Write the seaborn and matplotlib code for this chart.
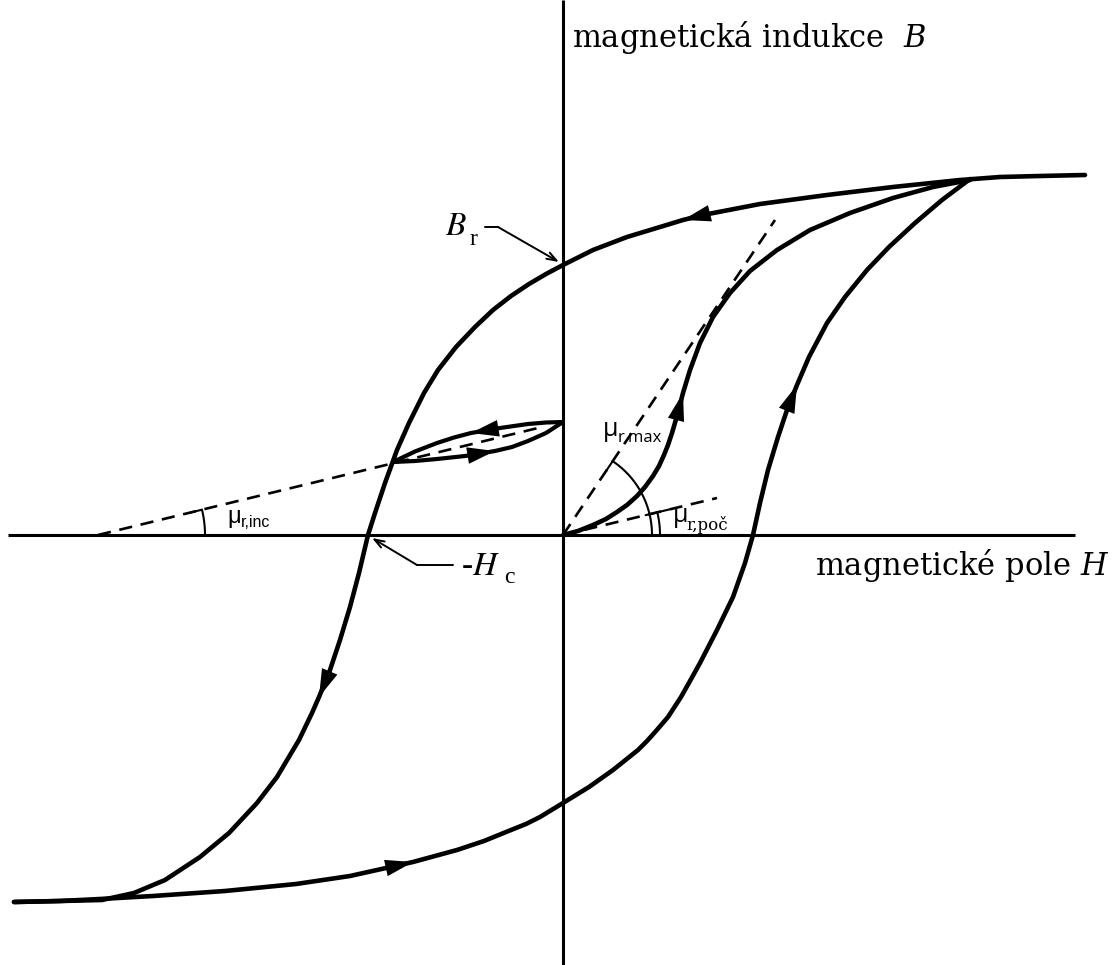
import numpy as np
import seaborn as sns
import matplotlib
matplotlib.use("Agg")
import matplotlib.pyplot as plt

# --- hysteresis curves (H, B) in arbitrary units -------------------------
# descending branch of the main loop (from positive saturation)
desc_H = [5.22, 4.77, 4.37, 3.97, 3.30, 2.64, 1.97, 1.40, 1.20, 0.97, 0.64, 0.30,
          0.00, -0.17, -0.34, -0.52, -0.70, -0.88, -1.07, -1.25, -1.39, -1.54,
          -1.66, -1.78, -1.88, -1.95, -2.04, -2.13, -2.23, -2.34, -2.44, -2.51,
          -2.64, -2.86, -3.06, -3.34, -3.63, -3.98, -4.29, -4.61, -5.03, -5.49]
desc_B = [3.60, 3.59, 3.58, 3.55, 3.48, 3.40, 3.31, 3.20, 3.15, 3.08, 2.98, 2.85,
          2.70, 2.61, 2.51, 2.39, 2.25, 2.08, 1.88, 1.65, 1.42, 1.12,
          0.85, 0.52, 0.22, 0.00, -0.38, -0.72, -1.05, -1.38, -1.62, -1.78,
          -2.05, -2.42, -2.68, -2.98, -3.22, -3.45, -3.58, -3.65, -3.66, -3.67]

# ascending branch of the main loop (from negative saturation)
asc_H = [-5.49, -5.03, -4.63, -4.10, -3.38, -2.67, -2.13, -1.50, -1.06, -0.79,
         -0.52, -0.37, -0.23, 0.00, 0.26, 0.50, 0.75, 0.84, 0.93, 1.05, 1.18, 1.27,
         1.37, 1.54, 1.70, 1.82, 1.90, 1.97, 2.05, 2.15, 2.24, 2.34, 2.46, 2.64,
         2.82, 3.04, 3.26, 3.52, 3.79, 4.07]
asc_B = [-3.67, -3.66, -3.64, -3.61, -3.56, -3.49, -3.41, -3.27, -3.15, -3.06,
         -2.95, -2.89, -2.82, -2.68, -2.52, -2.35, -2.15, -2.06, -1.96, -1.82,
         -1.62, -1.46, -1.28, -0.95, -0.62, -0.28, 0.00, 0.32, 0.65, 0.98, 1.25,
         1.50, 1.78, 2.12, 2.38, 2.65, 2.88, 3.12, 3.35, 3.56]

# initial magnetization curve
init_H = [0.00, 0.15, 0.30, 0.43, 0.54, 0.64, 0.74, 0.82, 0.90, 0.96, 1.01, 1.05,
          1.09, 1.14, 1.20, 1.27, 1.37, 1.50, 1.67, 1.87, 2.14, 2.47, 2.87, 3.30,
          3.70, 4.07]
init_B = [0.00, 0.04, 0.10, 0.16, 0.23, 0.30, 0.39, 0.48, 0.59, 0.69, 0.80, 0.90,
          1.02, 1.19, 1.42, 1.65, 1.92, 2.18, 2.42, 2.64, 2.85, 3.05, 3.22, 3.37,
          3.48, 3.55]

# minor (incremental) loop
minor_up_H = [0.00, -0.17, -0.35, -0.63, -0.92, -1.09, -1.26, -1.48, -1.70]
minor_up_B = [1.13, 1.125, 1.11, 1.07, 1.02, 0.975, 0.92, 0.835, 0.73]
minor_lo_H = [-1.70, -1.48, -1.26, -0.98, -0.68, -0.51, -0.35, -0.17, 0.00]
minor_lo_B = [0.73, 0.74, 0.76, 0.79, 0.84, 0.88, 0.94, 1.02, 1.13]

# arrowheads: (curve name, index of the tip point)
arrow_at = [("desc", 8), ("desc", 30), ("asc", 7), ("asc", 31),
            ("init", 14), ("minor_up", 4), ("minor_lo", 4)]

# --- permeability tangents ----------------------------------------------
inc_line_H, inc_line_B = [-4.65, -0.25], [0.00, 1.07]
max_line_H, max_line_B = [0.00, 2.12], [0.00, 3.15]
poc_line_H, poc_line_B = [0.00, 1.54], [0.00, 0.37]

# characteristic points
Br_point = (0.00, 2.70)
Hc_point = (-1.95, 0.00)

curves = {
    "desc": (desc_H, desc_B),
    "asc": (asc_H, asc_B),
    "init": (init_H, init_B),
    "minor_up": (minor_up_H, minor_up_B),
    "minor_lo": (minor_lo_H, minor_lo_B),
}

sns.set_theme(style="white")
plt.rcParams["font.family"] = ["DejaVu Serif", "DejaVu Sans"]
plt.rcParams["text.color"] = "black"

fig = plt.figure(figsize=(11.16, 9.65), dpi=100)
ax = fig.add_axes([0, 0, 1, 1])
ax.set_xlim(-5.63, 5.53)
ax.set_ylim(-4.30, 5.35)
ax.set_axis_off()

# coordinate axes
ax.plot([-5.55, 5.12], [0, 0], color="black", lw=2.2, solid_capstyle="butt")
ax.plot([0, 0], [-4.30, 5.35], color="black", lw=2.2, solid_capstyle="butt")

# loop branches
for name, (hx, by) in curves.items():
    lw = 3.3 if not name.startswith("minor") else 3.0
    sns.lineplot(x=hx, y=by, sort=False, estimator=None, color="black",
                 lw=lw, ax=ax, solid_capstyle="round", solid_joinstyle="round")

# direction arrows on branches
for name, k in arrow_at:
    hx, by = curves[name]
    tip = (hx[k], by[k])
    d = np.array([hx[k] - hx[k - 1], by[k] - by[k - 1]])
    d = d / np.hypot(*d)
    base = (tip[0] - 0.3 * d[0], tip[1] - 0.3 * d[1])
    ax.annotate("", xy=tip, xytext=base,
                arrowprops=dict(arrowstyle="-|>,head_length=2.0,head_width=0.6",
                                color="black", lw=0, shrinkA=0, shrinkB=0,
                                mutation_scale=10))

# dashed tangents
dash_kw = dict(color="black", lw=1.9, dashes=(5, 3.3))
for lh, lb in [(inc_line_H, inc_line_B), (max_line_H, max_line_B),
               (poc_line_H, poc_line_B)]:
    ax.plot(lh, lb, **dash_kw)


def angle_arc(center, hx, by, radius, both=False):
    ang = np.arctan2(by[1] - by[0], hx[1] - hx[0])
    t = np.linspace(0, ang, 60)
    ax.plot(center[0] + radius * np.cos(t), center[1] + radius * np.sin(t),
            color="black", lw=1.5)
    end = np.array([center[0] + radius * np.cos(ang), center[1] + radius * np.sin(ang)])
    u = np.array([np.cos(ang), np.sin(ang)])
    a = end - 0.12 * u
    b = end + (0.12 * u if both else 0 * u)
    ax.plot([a[0], b[0]], [a[1], b[1]], color="black", lw=1.5)


angle_arc((inc_line_H[0], inc_line_B[0]), inc_line_H, inc_line_B, 1.07)
angle_arc((0, 0), max_line_H, max_line_B, 0.89)
angle_arc((0, 0), poc_line_H, poc_line_B, 0.97, both=True)

# leader lines for Br and -Hc
ax.plot([-0.78, -0.65], [3.08, 3.08], color="black", lw=1.4)
ax.annotate("", xy=(Br_point[0] - 0.04, Br_point[1] + 0.03), xytext=(-0.65, 3.08),
            arrowprops=dict(arrowstyle="->,head_length=0.7,head_width=0.25",
                            color="black", lw=1.4, shrinkA=0, shrinkB=0,
                            mutation_scale=10))
ax.plot([-1.10, -1.46], [-0.30, -0.30], color="black", lw=1.4)
ax.annotate("", xy=(Hc_point[0] + 0.04, Hc_point[1] - 0.03), xytext=(-1.46, -0.30),
            arrowprops=dict(arrowstyle="->,head_length=0.7,head_width=0.25",
                            color="black", lw=1.4, shrinkA=0, shrinkB=0,
                            mutation_scale=10))

# axis titles
ax.text(0.09, 4.88, "magnetická indukce  $B$", fontsize=22, family="DejaVu Serif",
        math_fontfamily="dejavuserif", va="baseline", ha="left", color="black")
ax.text(2.52, -0.40, "magnetické pole $H$", fontsize=22, family="DejaVu Serif",
        math_fontfamily="dejavuserif", va="baseline", ha="left", color="black")

# characteristic point labels
ax.text(-1.18, 3.00, "$B$", fontsize=24, math_fontfamily="stix",
        va="baseline", ha="left", color="black")
ax.text(-0.93, 2.90, "r", fontsize=17, family="Liberation Serif",
        va="baseline", ha="left", color="black")
ax.text(-1.02, -0.40, "-$H$", fontsize=24, math_fontfamily="stix",
        family="Liberation Serif", va="baseline", ha="left", color="black")
ax.text(-0.59, -0.48, "c", fontsize=17, family="Liberation Serif",
        va="baseline", ha="left", color="black")

# permeability labels
ax.text(-3.36, 0.12, "μ", fontsize=17, family="Liberation Sans", va="baseline", color="black")
ax.text(-3.22, 0.08, "r,inc", fontsize=11.5, family="Liberation Sans", va="baseline", color="black")
ax.text(0.40, 0.99, "μ", fontsize=18, family="Open Sans", va="baseline", color="black")
ax.text(0.55, 0.93, "r,max", fontsize=12, family="Open Sans", va="baseline", color="black")
ax.text(1.10, 0.13, "μ", fontsize=18, family="Open Sans", va="baseline", color="black")
ax.text(1.23, 0.05, "r,poč", fontsize=12, family="DejaVu Serif", va="baseline", color="black")

fig.savefig("out.png", dpi=100, facecolor="white")
